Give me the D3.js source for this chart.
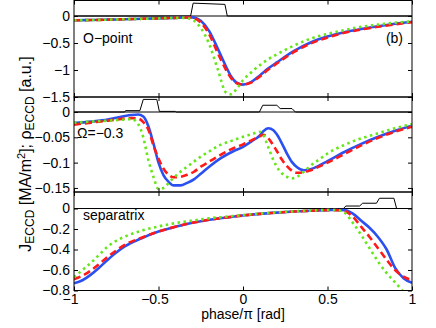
<!DOCTYPE html>
<html>
<head>
<meta charset="utf-8">
<script src="https://cdn.jsdelivr.net/npm/d3@7"></script>
<style>
    body { margin: 0; background: #fff; }
    svg text { font-family: "Liberation Sans", Arial, Helvetica, sans-serif; }
</style>
</head>
<body>
<div id="chart"></div>
<script>
// ---- data ----
const xTicks = [-1, -0.5, 0, 0.5, 1];

// O-point panel
const oTicks = [0, -0.5, -1, -1.5];
const phaseO = [-1, -0.9, -0.8, -0.7, -0.6, -0.5, -0.4, -0.35, -0.3, -0.25, -0.2, -0.15, -0.1, -0.07, -0.04,
    0, 0.05, 0.1, 0.15, 0.2, 0.3, 0.4, 0.5, 0.6, 0.7, 0.8, 0.9, 1];
const oBlue = [-0.08, -0.075, -0.068, -0.06, -0.052, -0.044, -0.034, -0.028, -0.025, -0.09, -0.28, -0.6, -0.94, -1.12, -1.23,
    -1.27, -1.22, -1.1, -0.97, -0.86, -0.65, -0.49, -0.38, -0.3, -0.24, -0.19, -0.145, -0.105];
const oRed = [-0.08, -0.075, -0.068, -0.06, -0.052, -0.044, -0.034, -0.028, -0.03, -0.12, -0.34, -0.68, -1.0, -1.15, -1.24,
    -1.27, -1.23, -1.12, -0.99, -0.88, -0.67, -0.51, -0.4, -0.31, -0.25, -0.2, -0.155, -0.115];
const oGreen = [-0.08, -0.075, -0.068, -0.06, -0.052, -0.044, -0.034, -0.035, -0.07, -0.22, -0.52, -0.98, -1.42, -1.45, -1.36,
    -1.19, -1.04, -0.91, -0.8, -0.71, -0.55, -0.42, -0.33, -0.26, -0.2, -0.16, -0.125, -0.1];
const rhoOPhase = [-1, -0.31, -0.295, -0.107, -0.093, 1];
const rhoOVal = [0, 0, 0.83, 0.75, 0, 0];

// Omega = -0.3 panel
const wTicks = [0, -0.05, -0.1, -0.15];
const phaseW = [-1, -0.9, -0.8, -0.7, -0.66, -0.62, -0.59, -0.56, -0.53, -0.5, -0.47, -0.44, -0.41, -0.37, -0.33, -0.29,
    -0.25, -0.2, -0.14, -0.06, 0, 0.05, 0.1, 0.12, 0.15, 0.18, 0.2, 0.23, 0.26, 0.29, 0.32, 0.36, 0.4, 0.45, 0.5,
    0.6, 0.7, 0.8, 0.9, 1];
const wBlue = [-0.022, -0.019, -0.015, -0.008, -0.006, -0.005, -0.009, -0.028, -0.062, -0.1, -0.125, -0.138, -0.145, -0.145, -0.14, -0.133,
    -0.122, -0.108, -0.093, -0.078, -0.069, -0.058, -0.046, -0.038, -0.032, -0.036, -0.044, -0.062, -0.082, -0.099, -0.109, -0.115, -0.113, -0.106, -0.097,
    -0.079, -0.063, -0.049, -0.037, -0.027];
const wRed = [-0.025, -0.021, -0.017, -0.013, -0.012, -0.013, -0.02, -0.035, -0.066, -0.092, -0.112, -0.124, -0.129, -0.128, -0.124, -0.118,
    -0.108, -0.098, -0.086, -0.072, -0.064, -0.056, -0.048, -0.045, -0.052, -0.066, -0.077, -0.094, -0.107, -0.116, -0.12, -0.119, -0.115, -0.108, -0.1,
    -0.083, -0.066, -0.051, -0.039, -0.029];
const wGreen = [-0.021, -0.019, -0.017, -0.015, -0.014, -0.024, -0.05, -0.095, -0.128, -0.152, -0.15, -0.14, -0.13, -0.118, -0.108, -0.098,
    -0.088, -0.078, -0.066, -0.056, -0.049, -0.044, -0.039, -0.045, -0.07, -0.095, -0.108, -0.121, -0.128, -0.131, -0.128, -0.118, -0.106, -0.094, -0.082,
    -0.065, -0.052, -0.042, -0.032, -0.024];
const rhoWPhase = [-1, -0.7, -0.695, -0.61, -0.59, -0.51, -0.495, -0.4, -0.395, 0.097, 0.117, 0.2, 0.22, 0.29, 0.31, 1];
const rhoWVal = [0, 0, 0.09, 0.09, 0.84, 0.84, 0.04, 0.04, 0, 0, 0.45, 0.45, 0.23, 0.23, 0, 0];

// separatrix panel
const sTicks = [0, -0.2, -0.4, -0.6, -0.8];
const phaseS = [-1, -0.95, -0.9, -0.85, -0.8, -0.75, -0.7, -0.6, -0.5, -0.4, -0.3, -0.2, -0.1, 0, 0.1, 0.2, 0.3, 0.4,
    0.5, 0.55, 0.6, 0.65, 0.7, 0.75, 0.8, 0.85, 0.9, 0.95, 1];
const sBlue = [-0.73, -0.7, -0.645, -0.575, -0.5, -0.43, -0.37, -0.29, -0.225, -0.178, -0.14, -0.11, -0.088, -0.068, -0.052, -0.04, -0.03, -0.022,
    -0.016, -0.014, -0.016, -0.05, -0.12, -0.19, -0.28, -0.4, -0.58, -0.68, -0.725];
const sRed = [-0.69, -0.655, -0.605, -0.54, -0.47, -0.41, -0.355, -0.285, -0.225, -0.178, -0.14, -0.11, -0.088, -0.068, -0.052, -0.04, -0.03, -0.022,
    -0.016, -0.016, -0.025, -0.08, -0.18, -0.28, -0.39, -0.5, -0.6, -0.665, -0.7];
const sGreen = [-0.67, -0.6, -0.53, -0.45, -0.37, -0.315, -0.275, -0.216, -0.175, -0.143, -0.118, -0.096, -0.08, -0.064, -0.05, -0.038, -0.028, -0.02,
    -0.015, -0.015, -0.04, -0.14, -0.26, -0.39, -0.52, -0.63, -0.72, -0.81, -0.88];
const rhoSPhase = [-1, 0.594, 0.609, 0.69, 0.708, 0.79, 0.807, 0.893, 0.909, 1];
const rhoSVal = [0, 0, 0.15, 0.15, 0.32, 0.32, 0.62, 0.62, 0, 0];

// ---- layout ----
const width = 436;
const height = 328;
const left = 74;
const right = 412;
const tick = 4;

const styles = [
    { color: '#2b50f2', dash: null },
    { color: '#ff1a1a', dash: '7,4' },
    { color: '#66e619', dash: '2.5,3.5' }
];

const panels = [
    { top: 0.5, zero: 16, bottom: 97, domain: [-1.5, 0], ticks: oTicks, phase: phaseO,
      series: [oBlue, oRed, oGreen], rhoPhase: rhoOPhase, rho: rhoOVal },
    { top: 97, zero: 112, bottom: 192, domain: [-0.158, 0], ticks: wTicks, phase: phaseW,
      series: [wBlue, wRed, wGreen], rhoPhase: rhoWPhase, rho: rhoWVal },
    { top: 192, zero: 208.5, bottom: 290.5, domain: [-0.8, 0], ticks: sTicks, phase: phaseS,
      series: [sBlue, sRed, sGreen], rhoPhase: rhoSPhase, rho: rhoSVal }
];

const svg = d3.select('#chart')
    .append('svg')
    .attr('width', width)
    .attr('height', height);

const x = d3.scaleLinear().domain([-1, 1]).range([left, right]);
const fmt = d3.format('');

panels.forEach(function (p, k) {
    const y = d3.scaleLinear().domain(p.domain).range([p.bottom, p.zero]);
    const yRho = d3.scaleLinear().domain([0, 1]).range([p.zero, p.top]);

    svg.append('clipPath')
        .attr('id', 'clip' + k)
        .append('rect')
        .attr('x', left)
        .attr('y', p.zero - 2)
        .attr('width', right - left)
        .attr('height', p.bottom - p.zero + 2);

    // zero line splitting the deposition strip from the current plot
    svg.append('line')
        .attr('x1', left).attr('x2', right)
        .attr('y1', p.zero).attr('y2', p.zero)
        .attr('stroke', '#000')
        .attr('stroke-width', 1);

    // deposition profile
    const rhoLine = d3.line()
        .x((d, i) => x(p.rhoPhase[i]))
        .y(d => yRho(d));
    svg.append('path')
        .attr('d', rhoLine(p.rho))
        .attr('fill', 'none')
        .attr('stroke', '#000')
        .attr('stroke-width', 1);

    const line = d3.line()
        .x((d, i) => x(p.phase[i]))
        .y(d => y(d))
        .curve(d3.curveMonotoneX);

    const g = svg.append('g').attr('clip-path', 'url(#clip' + k + ')');
    p.series.forEach(function (s, j) {
        g.append('path')
            .attr('d', line(s))
            .attr('fill', 'none')
            .attr('stroke', styles[j].color)
            .attr('stroke-width', 2.6)
            .attr('stroke-dasharray', styles[j].dash);
    });

    // box
    svg.append('rect')
        .attr('x', left).attr('y', p.top)
        .attr('width', right - left).attr('height', p.bottom - p.top)
        .attr('fill', 'none')
        .attr('stroke', '#000')
        .attr('stroke-width', 1);

    // axes, ticks pointing inward
    const yl = svg.append('g')
        .attr('transform', 'translate(' + left + ',0)')
        .call(d3.axisLeft(y).tickValues(p.ticks).tickFormat(fmt).tickSize(-tick).tickSizeOuter(0).tickPadding(4));
    const yr = svg.append('g')
        .attr('transform', 'translate(' + right + ',0)')
        .call(d3.axisRight(y).tickValues(p.ticks).tickFormat('').tickSize(-tick).tickSizeOuter(0));
    const xt = svg.append('g')
        .attr('transform', 'translate(0,' + p.top + ')')
        .call(d3.axisTop(x).tickValues(xTicks).tickFormat('').tickSize(-tick).tickSizeOuter(0));
    const xb = svg.append('g')
        .attr('transform', 'translate(0,' + p.bottom + ')')
        .call(d3.axisBottom(x).tickValues(xTicks)
            .tickFormat(k === panels.length - 1 ? fmt : '')
            .tickSize(-tick).tickSizeOuter(0).tickPadding(4));

    [yl, yr, xt, xb].forEach(function (a) {
        a.select('.domain').remove();
        a.selectAll('line').attr('stroke', '#000');
        a.selectAll('text')
            .attr('font-size', 14)
            .attr('font-family', '"Liberation Sans", Arial, sans-serif')
            .attr('fill', '#000');
    });
    // the minus sign hangs to the left of the centred number
    xb.selectAll('text').attr('dx', d => d < 0 ? '-0.29em' : 0);
});

// panel annotations
const notes = [
    { text: 'O\u2212point', x: 83, y: 42.5, anchor: 'start' },
    { text: '(b)', x: 403, y: 42.5, anchor: 'end' },
    { text: '\u03a9=\u22120.3', x: 77, y: 137.5, anchor: 'start' },
    { text: 'separatrix', x: 83, y: 219.5, anchor: 'start' }
];
svg.selectAll('text.note')
    .data(notes)
    .enter()
    .append('text')
    .attr('class', 'note')
    .attr('x', d => d.x)
    .attr('y', d => d.y)
    .attr('text-anchor', d => d.anchor)
    .attr('font-size', 14)
    .text(d => d.text);

svg.append('text')
    .attr('x', (left + right) / 2)
    .attr('y', 319)
    .attr('text-anchor', 'middle')
    .attr('font-size', 14)
    .text('phase/\u03c0 [rad]');

// y label with sub/superscripts
const yLab = svg.append('text')
    .attr('transform', 'translate(31,154) rotate(-90)')
    .attr('text-anchor', 'middle')
    .attr('font-size', 16);
yLab.append('tspan').text('J');
yLab.append('tspan').attr('font-size', 12).attr('dy', 3).text('ECCD');
yLab.append('tspan').attr('dy', -3).text(' [MA/m');
yLab.append('tspan').attr('font-size', 11).attr('dy', -6).text('2');
yLab.append('tspan').attr('dy', 6).text(']; \u03c1');
yLab.append('tspan').attr('font-size', 12).attr('dy', 3).text('ECCD');
yLab.append('tspan').attr('dy', -3).text(' [a.u.]');
</script>
</body>
</html>
